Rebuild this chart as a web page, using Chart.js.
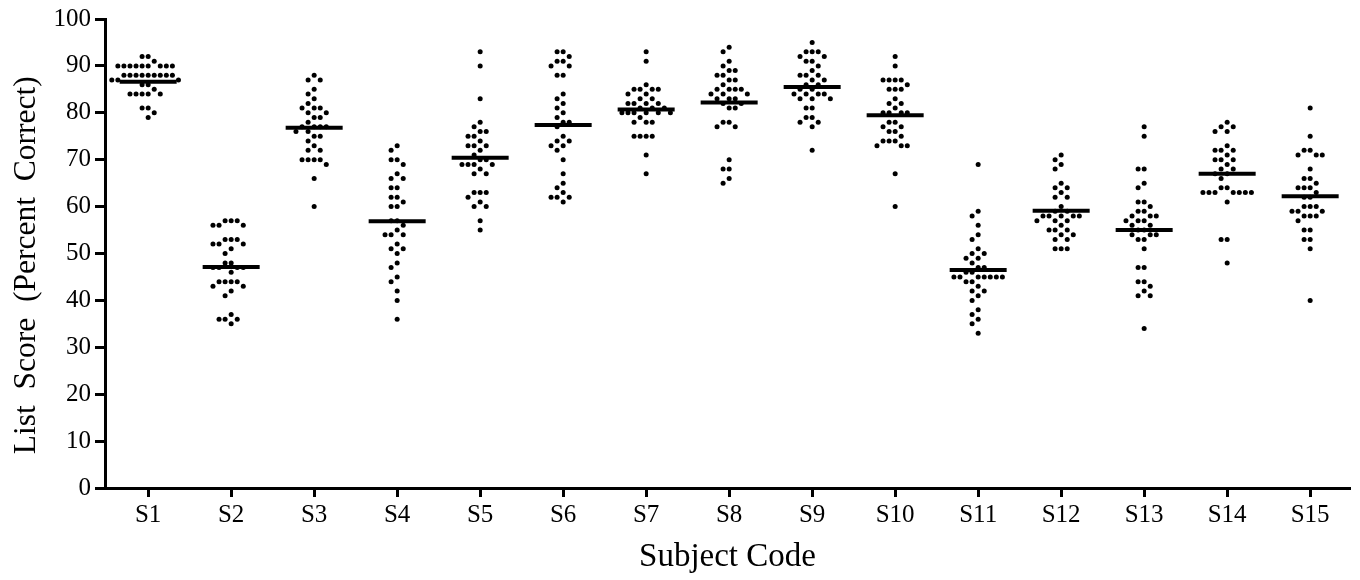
<!DOCTYPE html>
<html>
<head>
<meta charset="utf-8">
<script src="https://cdn.jsdelivr.net/npm/chart.js@4/dist/chart.umd.min.js"></script>
<style>
  html, body { margin: 0; padding: 0; background: #fff; }
  #wrap { width: 1360px; height: 580px; }
</style>
</head>
<body>
<div id="wrap"><canvas id="c" width="1360" height="580"></canvas></div>
<script>
// ---- Data ----
const subjects = ['S1','S2','S3','S4','S5','S6','S7','S8','S9','S10','S11','S12','S13','S14','S15'];
const yTicks = [0,10,20,30,40,50,60,70,80,90,100];

const s1  = [92,92,91,90,90,90,90,90,90,90,90,90,88,88,88,88,88,88,88,88,88,87,87,87,86,86,85,84,84,84,84,84,81,81,80,79];
const s2  = [57,57,57,56,56,56,53,53,53,52,52,52,51,50,48,48,47,47,47,47,46,44,44,44,44,43,43,42,41,37,36,36,36,35];
const s3  = [88,87,87,85,84,83,82,81,81,81,80,80,79,79,78,77,77,77,77,76,76,75,75,74,73,72,72,70,70,70,70,69,66,60];
const s4  = [73,72,70,70,69,67,66,66,64,64,62,62,61,60,60,57,57,56,55,54,54,54,52,51,51,50,48,47,45,44,42,40,36];
const s5  = [93,90,83,78,77,76,76,75,75,74,73,73,73,72,71,70,70,69,69,69,69,68,67,67,63,63,63,62,61,60,60,57,55];
const s6  = [93,93,92,91,91,90,90,88,88,84,83,82,81,80,79,78,78,77,75,74,74,73,73,72,70,67,65,64,63,62,62,62,61];
const s7  = [93,91,86,85,85,85,85,84,84,83,83,82,82,82,82,81,81,81,80,80,80,80,80,80,79,78,78,78,75,75,75,75,71,67];
const s8  = [94,93,91,90,89,89,88,88,87,87,86,85,85,85,85,84,84,84,83,83,83,82,82,81,81,78,78,77,77,70,68,68,66,65];
const s9  = [95,93,93,93,92,92,91,91,90,89,88,88,88,87,87,86,86,85,85,84,84,84,84,83,83,83,81,81,79,79,78,78,77,72];
const s10 = [92,90,87,87,87,87,86,85,85,85,83,82,82,81,80,80,80,80,78,78,77,77,76,76,75,74,74,74,73,73,73,67,60];
const s11 = [69,59,58,56,54,53,51,50,50,49,49,48,47,47,46,46,45,45,45,45,45,45,45,44,44,43,42,42,41,40,38,37,36,35,33];
const s12 = [71,70,69,68,65,64,64,63,62,62,60,59,59,58,58,58,58,58,57,57,57,56,55,55,55,54,54,53,53,51,51,51];
const s13 = [77,75,68,68,65,64,61,61,60,59,59,58,58,58,57,57,57,56,56,55,55,54,54,54,53,53,51,47,47,44,44,43,42,41,41,34];
const s14 = [78,77,77,76,76,73,72,72,72,71,70,70,70,69,68,68,67,67,66,64,64,63,63,63,63,63,63,63,61,53,53,48];
const s15 = [81,75,72,72,71,71,71,68,66,66,65,64,64,64,63,62,62,60,60,60,59,59,59,58,58,58,57,55,55,53,53,51,40];
const means = [86.6,47.1,76.8,56.9,70.4,77.4,80.7,82.2,85.5,79.5,46.5,59.1,55.0,67.0,62.2];

const groups = [s1,s2,s3,s4,s5,s6,s7,s8,s9,s10,s11,s12,s13,s14,s15];

// ---- Beeswarm layout (grid columns, collision avoidance) ----
const COL = 0.073;      // column spacing in category units
const NEAR = 1.5;       // values closer than this collide in one column
function swarm(vals, center) {
  const sorted = vals.slice().sort((a, b) => b - a);
  const placed = [];
  const out = [];
  sorted.forEach(v => {
    for (let i = 0; i < 40; i++) {
      const k = i === 0 ? 0 : (i % 2 ? -Math.ceil(i / 2) : Math.ceil(i / 2));
      const clash = placed.some(p => p.k === k && Math.abs(p.v - v) < NEAR);
      if (!clash) { placed.push({k, v}); out.push({x: center + k * COL, y: v}); break; }
    }
  });
  return out;
}
const dots = [];
groups.forEach((g, i) => dots.push(...swarm(g, i + 1)));
const meanPts = means.map((m, i) => ({x: i + 1, y: m}));

// ---- Chart ----
Chart.defaults.font.family = "'Liberation Serif', 'Times New Roman', serif";
Chart.defaults.color = '#000';

new Chart(document.getElementById('c'), {
  type: 'scatter',
  data: {
    datasets: [
      {
        label: 'Mean',
        data: meanPts,
        pointStyle: 'line',
        pointRadius: 28.5,
        pointHoverRadius: 28.5,
        borderColor: '#000',
        backgroundColor: '#000',
        borderWidth: 4,
        pointBorderWidth: 4,
        clip: false
      },
      {
        label: 'Scores',
        data: dots,
        pointStyle: 'circle',
        pointRadius: 2.5,
        pointHoverRadius: 2.5,
        backgroundColor: '#000',
        borderColor: '#000',
        borderWidth: 0
      }
    ]
  },
  options: {
    responsive: false,
    animation: false,
    devicePixelRatio: 1,
    layout: { autoPadding: false, padding: { top: 19, right: 10, left: 0, bottom: 0 } },
    plugins: { legend: { display: false }, tooltip: { enabled: false } },
    events: [],
    scales: {
      x: {
        type: 'linear',
        min: 0.48,
        max: 15.48,
        afterFit: (s) => { s.height = 92; s.paddingLeft = 0; s.paddingRight = 0; },
        afterBuildTicks: (s) => { s.ticks = subjects.map((_, i) => ({ value: i + 1 })); },
        ticks: {
          autoSkip: false,
          maxRotation: 0,
          padding: 3,
          font: { size: 25 },
          color: '#000',
          callback: (v) => subjects[Math.round(v) - 1]
        },
        grid: { drawOnChartArea: false, drawTicks: true, tickLength: 9, tickWidth: 3, tickColor: '#000' },
        border: { display: true, color: '#000', width: 3 },
        title: { display: true, text: 'Subject Code', font: { size: 33 }, color: '#000', padding: { top: 0, bottom: 3 } }
      },
      y: {
        type: 'linear',
        min: 0,
        max: 100,
        afterFit: (s) => { s.width = 105; s.paddingTop = 0; s.paddingBottom = 0; },
        afterBuildTicks: (s) => { s.ticks = yTicks.map(v => ({ value: v })); },
        ticks: { padding: 4, font: { size: 25 }, color: '#000' },
        grid: { drawOnChartArea: false, drawTicks: true, tickLength: 10, tickWidth: 3, tickColor: '#000' },
        border: { display: true, color: '#000', width: 3 },
        title: { display: true, text: 'List  Score  (Percent  Correct)   ', font: { size: 31.5 }, color: '#000', padding: { top: 8, bottom: 0 } }
      }
    }
  }
});
</script>
</body>
</html>
